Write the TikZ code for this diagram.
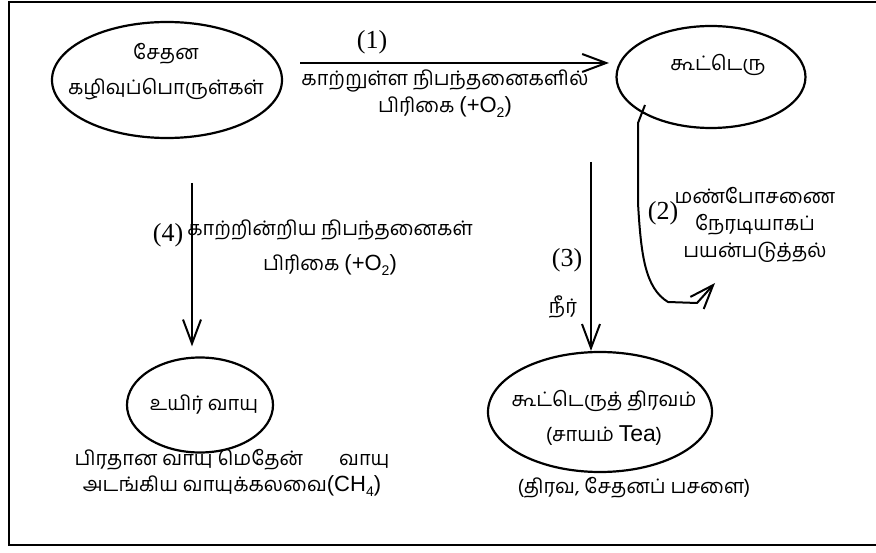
\documentclass[tikz,border=0pt]{standalone}
\usepackage{fontspec}
\setmainfont{Liberation Serif}
\newfontfamily\tamil[Script=Tamil]{Hind Madurai}
\newfontfamily\arial{Liberation Sans}
\usetikzlibrary{shapes.geometric,arrows.meta}

\tikzstyle{compost chart}=[
    x=1pt, y=-1pt,
    blob/.style={ellipse, draw, line width=2.2pt, inner sep=0pt},
    flow/.style={line width=2pt, line join=round, -{Straight Barb[length=24pt,width=18pt]}},
    tamil text/.style={font={\tamil\fontsize{20}{23}\selectfont}, align=center, inner sep=0pt},
    step no/.style={font={\fontsize{26}{28}\selectfont}, inner sep=0pt},
]
\newcommand{\chem}[2]{{\arial\fontsize{22}{23}\selectfont #1\raisebox{-5pt}{\fontsize{14}{14}\selectfont #2}}}
\newcommand{\oxy}{\chem{(+O}{2}{\arial\fontsize{22}{23}\selectfont)}}
\newcommand{\gap}[1]{\\[#1pt]}

\begin{document}
\begin{tikzpicture}[compost chart]
    \useasboundingbox (0,0) rectangle (876,553);
    \draw[line width=2.4pt] (876,2) -- (9,2) -- (9,545) -- (876,545);

    % the four heaps
    \node[blob, minimum width=230pt, minimum height=116pt] (waste) at (167,80) {};
    \node[blob, minimum width=189pt, minimum height=102pt] (compost) at (711,77) {};
    \node[blob, minimum width=146pt, minimum height=95pt] (biogas) at (200,405) {};
    \node[blob, minimum width=224pt, minimum height=120pt] (liquid) at (600,412) {};

    \node[tamil text] (waste text) at (166,72) {சேதன\gap{12}கழிவுப்பொருள்கள்};
    \node[tamil text] (compost text) at (718,65) {கூட்டெரு};
    \node[tamil text] (biogas text) at (204,405) {உயிர் வாயு};
    \node[tamil text] (liquid text) at (604,418) {கூட்டெருத் திரவம்\gap{12}(சாயம் {\arial\fontsize{23}{23}\selectfont Tea})};
    \node[tamil text] (biogas note) at (232,473) {பிரதான வாயு மெதேன்\hspace{36pt}வாயு\gap{3}அடங்கிய வாயுக்கலவை\chem{(CH}{4}{\arial\fontsize{22}{23}\selectfont)}};
    \node[tamil text] (liquid note) at (634,488) {(திரவ, சேதனப் பசளை)};

    % steps
    \foreach \n/\x/\y in {1/372/42, 2/663/213, 3/567/260, 4/168/235}
        \node[step no] (step\n) at (\x,\y) {(\n)};

    \node[tamil text] (aerobic) at (445,94) {காற்றுள்ள நிபந்தனைகளில்\gap{4}பிரிகை \oxy};
    \node[tamil text] (manure) at (755,225) {மண்போசணை\gap{4}நேரடியாகப்\gap{4}பயன்படுத்தல்};
    \node[tamil text] (water) at (563,307) {நீர்};
    \node[tamil text] (anaerobic) at (330,248) {காற்றின்றிய நிபந்தனைகள்\gap{12}பிரிகை \oxy};

    \coordinate (from1) at (300,63);
    \coordinate (to1) at (609,63);
    \coordinate (from2) at (645,105);
    \coordinate (from3) at (591,162);
    \coordinate (from4) at (192,183);

    \draw[flow] (from1) -- (to1);
    \draw[flow] (from2) -- (638,123) -- (638,203)
        .. controls (641,255) and (645,288) .. (668,302) -- (697,303) -- (715,283);
    \draw[flow] (from3) -- (from3 |- liquid.north);
    \draw[flow] (from4) -- ([yshift=10pt]from4 |- biogas.north);
\end{tikzpicture}
\end{document}
